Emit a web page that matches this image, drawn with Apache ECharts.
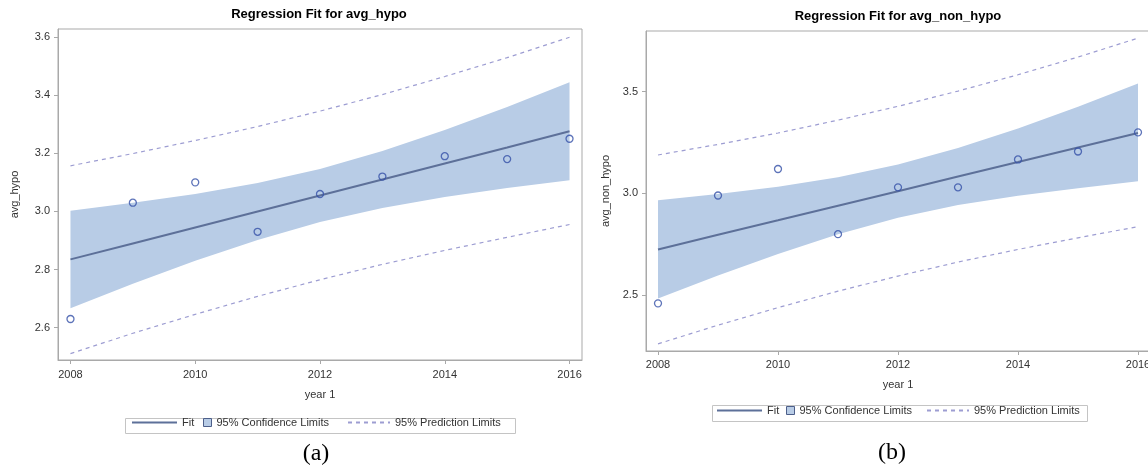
<!DOCTYPE html>
<html>
<head>
<meta charset="utf-8">
<script src="https://cdn.jsdelivr.net/npm/echarts@6/dist/echarts.min.js"></script>
<style>
html,body{margin:0;padding:0;background:#fff;}
#chart{width:1148px;height:466px;}
</style>
</head>
<body>
<div id="chart"></div>
<script>
var years = [2008, 2009, 2010, 2011, 2012, 2013, 2014, 2015, 2016];
var xTicks = [2008, 2010, 2012, 2014, 2016];

// (a) avg_hypo
var hypoObs = [2.63, 3.03, 3.10, 2.93, 3.06, 3.12, 3.19, 3.18, 3.25];
var hypoFit = [2.835, 2.89, 2.945, 3.0, 3.055, 3.11, 3.165, 3.22, 3.276];
var hypoClmUp = [3.002, 3.03, 3.06, 3.098, 3.146, 3.208, 3.28, 3.359, 3.444];
var hypoClmLo = [2.667, 2.751, 2.83, 2.902, 2.964, 3.012, 3.05, 3.081, 3.107];
var hypoPlmUp = [3.157, 3.199, 3.244, 3.292, 3.345, 3.402, 3.464, 3.529, 3.599];
var hypoPlmLo = [2.511, 2.581, 2.646, 2.708, 2.765, 2.818, 2.866, 2.911, 2.955];
var hypoTicks = [2.6, 2.8, 3.0, 3.2, 3.4, 3.6];

// (b) avg_non_hypo
var nonObs = [2.46, 2.99, 3.12, 2.80, 3.03, 3.03, 3.167, 3.206, 3.30];
var nonFit = [2.725, 2.797, 2.868, 2.94, 3.011, 3.083, 3.154, 3.226, 3.297];
var nonClmUp = [2.966, 2.997, 3.033, 3.08, 3.142, 3.223, 3.319, 3.426, 3.54];
var nonClmLo = [2.484, 2.597, 2.703, 2.80, 2.88, 2.943, 2.989, 3.026, 3.06];
var nonPlmUp = [3.189, 3.241, 3.297, 3.36, 3.428, 3.503, 3.583, 3.67, 3.763];
var nonPlmLo = [2.261, 2.353, 2.439, 2.52, 2.594, 2.663, 2.725, 2.782, 2.837];
var nonTicks = [2.5, 3.0, 3.5];

var fitColor = '#5d7099';
var bandColor = '#b8cce6';
var predColor = '#9d9dd2';
var dotColor = '#3450a8';
var frameColor = '#a9a9a9';
var txtColor = '#333';
var font = 'Arial, "Liberation Sans", sans-serif';

function pairs(ys){
	var out = [];
	for(var i=0;i<years.length;i++){
		out.push([years[i], ys[i]]);
	}
	return out;
}
function bandRows(up, lo){
	var out = [];
	for(var i=0;i<years.length;i++){
		out.push([years[i], lo[i], up[i]]);
	}
	return out;
}
// one polygon for the whole confidence band, points go through the axis scales
function bandRender(up, lo){
	return function(params, api){
		if(params.dataIndex !== 0) return null;
		var pts = [];
		for(var i=0;i<years.length;i++){
			pts.push(api.coord([years[i], up[i]]));
		}
		for(var j=years.length-1;j>=0;j--){
			pts.push(api.coord([years[j], lo[j]]));
		}
		return {type:'polygon', shape:{points:pts}, style:{fill:bandColor}};
	};
}

function panelSeries(idx, obs, fit, up, lo, pup, plo){
	return [
		{name:'95% Confidence Limits', type:'custom', xAxisIndex:idx, yAxisIndex:idx,
			data:bandRows(up, lo), encode:{x:0, y:[1,2]}, renderItem:bandRender(up, lo),
			itemStyle:{color:bandColor}, silent:true, z:1},
		{name:'Fit', type:'line', xAxisIndex:idx, yAxisIndex:idx, data:pairs(fit),
			symbol:'none', itemStyle:{color:fitColor}, lineStyle:{color:fitColor, width:2}, z:3},
		{name:'95% Prediction Limits', type:'line', xAxisIndex:idx, yAxisIndex:idx, data:pairs(pup),
			symbol:'none', itemStyle:{color:predColor}, lineStyle:{color:predColor, width:1.2, type:[4,4]}, z:3},
		{name:'95% Prediction Limits', type:'line', xAxisIndex:idx, yAxisIndex:idx, data:pairs(plo),
			symbol:'none', itemStyle:{color:predColor}, lineStyle:{color:predColor, width:1.2, type:[4,4]}, z:3},
		{name:'obs'+idx, type:'scatter', xAxisIndex:idx, yAxisIndex:idx, data:pairs(obs),
			symbol:'circle', symbolSize:7,
			itemStyle:{color:'rgba(255,255,255,0)', borderColor:dotColor, borderWidth:1.3}, z:4}
	];
}

function xAxisOf(idx, gap, nameGap){
	return {
		type:'value', gridIndex:idx, min:2007.8, max:2016.2,
		name:'year 1', nameLocation:'middle', nameGap:nameGap,
		nameTextStyle:{color:txtColor, fontSize:11, fontFamily:font},
		axisLine:{show:true, lineStyle:{color:frameColor}},
		axisTick:{show:true, length:4, customValues:xTicks, lineStyle:{color:frameColor}},
		axisLabel:{customValues:xTicks, margin:gap, color:txtColor, fontSize:11, fontFamily:font,
			formatter:function(v){return String(v);}},
		splitLine:{show:false}
	};
}
function yAxisOf(idx, name, min, max, ticks, nameGap){
	return {
		type:'value', gridIndex:idx, min:min, max:max,
		name:name, nameLocation:'middle', nameRotate:90, nameGap:nameGap,
		nameTextStyle:{color:txtColor, fontSize:11, fontFamily:font},
		axisLine:{show:true, lineStyle:{color:frameColor}},
		axisTick:{show:true, length:4, customValues:ticks, lineStyle:{color:frameColor}},
		axisLabel:{customValues:ticks, margin:8, color:txtColor, fontSize:11, fontFamily:font,
			formatter:function(v){return v.toFixed(1);}},
		splitLine:{show:false}
	};
}
function legendOf(name, left, top, w, h, extra){
	var item = {name:name};
	if(extra){
		for(var k in extra){ item[k] = extra[k]; }
	}
	return {
		data:[item], left:left, top:top, padding:0, itemWidth:w, itemHeight:h,
		selectedMode:false,
		textStyle:{color:txtColor, fontSize:11, fontFamily:font}
	};
}
var confIcon = {icon:'rect', itemStyle:{color:bandColor, borderColor:'#4d5f8a', borderWidth:1}};
var lineIcon = {itemStyle:{opacity:0}};

var myChart = echarts.init(document.getElementById('chart'), null, {renderer:'canvas'});
var option = {
	animation:false,
	grid:[
		{left:58, top:29, width:524, height:331, show:true, borderColor:frameColor, borderWidth:1,
			containLabel:false, outerBoundsMode:'none'},
		{left:646, top:31, width:504, height:320, show:true, borderColor:frameColor, borderWidth:1,
			containLabel:false, outerBoundsMode:'none'}
	],
	xAxis:[xAxisOf(0, 9, 29), xAxisOf(1, 8, 28)],
	yAxis:[
		yAxisOf(0, 'avg_hypo', 2.489, 3.6275, hypoTicks, 38),
		yAxisOf(1, 'avg_non_hypo', 2.226, 3.798, nonTicks, 35)
	],
	legend:[
		legendOf('Fit', 131, 417, 45, 12, lineIcon),
		legendOf('95% Confidence Limits', 203, 417, 8, 8, confIcon),
		legendOf('95% Prediction Limits', 347, 417, 42, 12, lineIcon),
		legendOf('Fit', 716, 405, 45, 12, lineIcon),
		legendOf('95% Confidence Limits', 786, 405, 8, 8, confIcon),
		legendOf('95% Prediction Limits', 926, 405, 42, 12, lineIcon)
	],
	graphic:[
		{type:'rect', left:123, top:416, shape:{width:390, height:15}, style:{fill:'none', stroke:'#c4c4c4', lineWidth:1}, silent:true},
		{type:'rect', left:710, top:403, shape:{width:375, height:16}, style:{fill:'none', stroke:'#c4c4c4', lineWidth:1}, silent:true},
		{type:'text', x:319, y:8, style:{text:'Regression Fit for avg_hypo', fill:'#000', font:'bold 13px ' + font, textAlign:'center'}},
		{type:'text', x:898, y:10, style:{text:'Regression Fit for avg_non_hypo', fill:'#000', font:'bold 13px ' + font, textAlign:'center'}},
		{type:'text', x:316, y:442, style:{text:'(a)', fill:'#000', font:'24px "Liberation Serif", "Times New Roman", serif', textAlign:'center'}},
		{type:'text', x:892, y:441, style:{text:'(b)', fill:'#000', font:'24px "Liberation Serif", "Times New Roman", serif', textAlign:'center'}}
	],
	series:[].concat(
		panelSeries(0, hypoObs, hypoFit, hypoClmUp, hypoClmLo, hypoPlmUp, hypoPlmLo),
		panelSeries(1, nonObs, nonFit, nonClmUp, nonClmLo, nonPlmUp, nonPlmLo)
	)
};
myChart.setOption(option);
</script>
</body>
</html>
